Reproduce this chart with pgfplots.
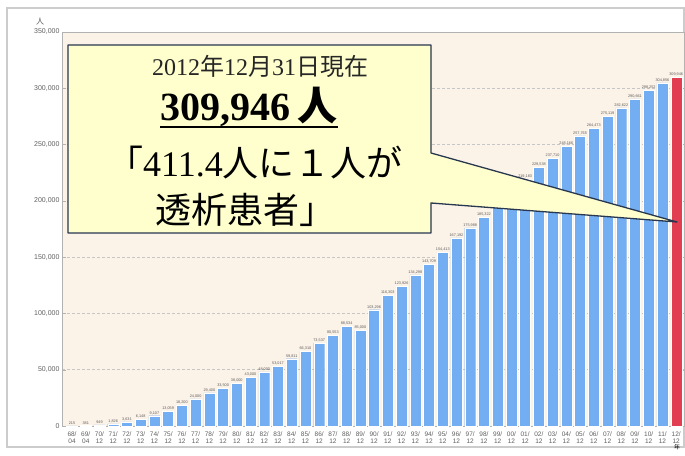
\documentclass[border=0pt]{standalone}
\usepackage{pgfplots}
\pgfplotsset{compat=1.18}
\usepackage{fontspec}
\setmainfont{Liberation Serif}
\newfontfamily\jp{Noto Sans CJK JP}
\newfontfamily\sans{Liberation Sans}
\definecolor{barblue}{RGB}{116,174,242}
\definecolor{barred}{RGB}{226,62,82}
\definecolor{plotbg}{RGB}{252,243,232}
\definecolor{callfill}{RGB}{255,255,206}
\definecolor{calldraw}{RGB}{40,55,80}
\pgfplotstableread{
x y
0 215
1 381
2 949
3 1826
4 3631
5 6148
6 9107
7 13059
8 18200
9 24000
10 29400
11 33500
12 38000
13 43000
14 48000
15 53017
16 59811
17 66310
18 73537
19 80553
20 88534
21 85000
22 103296
23 116303
24 123926
25 134298
26 143709
27 154413
28 167192
29 175988
30 185322
31 197213
32 206134
33 219183
34 229538
35 237710
36 248166
37 257765
38 264473
39 275119
40 282622
41 290661
42 298252
43 304856
}\bluedata
\pgfplotstableread{
x y
44 309946
}\reddata
\begin{document}
\begin{tikzpicture}
\useasboundingbox (0,0) rectangle (685pt,455pt);
\fill[white] (0,0) rectangle (685pt,455pt);
\draw[gray!40, line width=1.6pt] (7pt,8pt) rectangle (684pt,447pt);
\begin{axis}[
  at={(62pt,29pt)}, anchor=south west, scale only axis,
  width=622pt, height=394pt,
  xmin=-0.73, xmax=44.57, ymin=0, ymax=350000,
  ybar, bar width=0.8,
  every axis plot post/.append style={bar shift=0pt},
  axis background/.style={fill=plotbg},
  axis line style={gray!60, line width=0.8pt},
  /pgf/number format/assume math mode=true,
  /pgf/number format/fixed,
  /pgf/number format/precision=0,
  /pgf/number format/1000 sep={,},
  scaled y ticks=false,
  ytick={0,50000,...,350000},
  ymajorgrids, major grid style={gray!45, densely dashed, line width=0.5pt},
  yticklabel style={font=\sans\fontsize{7}{7}\selectfont, text=gray!75!black, xshift=1pt},
  ytick style={gray!60},
  xtick={0,...,44},
  xticklabels={{68/\\04},{69/\\04},{70/\\12},{71/\\12},{72/\\12},{73/\\12},{74/\\12},{75/\\12},{76/\\12},{77/\\12},{78/\\12},{79/\\12},{80/\\12},{81/\\12},{82/\\12},{83/\\12},{84/\\12},{85/\\12},{86/\\12},{87/\\12},{88/\\12},{89/\\12},{90/\\12},{91/\\12},{92/\\12},{93/\\12},{94/\\12},{95/\\12},{96/\\12},{97/\\12},{98/\\12},{99/\\12},{00/\\12},{01/\\12},{02/\\12},{03/\\12},{04/\\12},{05/\\12},{06/\\12},{07/\\12},{08/\\12},{09/\\12},{10/\\12},{11/\\12},{12/\\12}},
  xticklabel style={font=\sans\fontsize{6.5}{7.5}\selectfont, text=gray!75!black, align=center, inner sep=1pt},
  xtick style={draw=none},
  nodes near coords,
  every node near coord/.append style={font=\sans\fontsize{3.8}{4}\selectfont, text=gray!70!black, inner sep=1pt},
  clip=false,
]
\addplot[fill=barblue, draw=white, line width=0.3pt] table[x=x,y=y] {\bluedata};
\addplot[fill=barred, draw=white, line width=0.3pt] table[x=x,y=y] {\reddata};
\end{axis}
\node[font=\jp\fontsize{8}{8}\selectfont, text=gray!75!black] at (40pt,433pt) {人};
\node[font=\jp\fontsize{6}{6}\selectfont, text=black] at (677pt,8pt) {年};
\draw[calldraw, line width=1.3pt, fill=callfill, line join=round]
  (68pt,410pt) -- (431pt,410pt) -- (431pt,302pt) -- (677pt,233pt) -- (431pt,252pt) -- (431pt,222pt) -- (68pt,222pt) -- cycle;
\node[font=\fontsize{24}{24}\selectfont, text=black!85] at (260pt,389pt) {2012{\jp 年}12{\jp 月}31{\jp 日現在}};
\node[font=\fontsize{40}{40}\selectfont\bfseries] at (249pt,348pt) {309,946\,{\jp 人}};
\draw[line width=1.6pt] (160pt,328pt) -- (338pt,328pt);
\node[font=\fontsize{36}{36}\selectfont] at (255pt,292pt) {{\jp 「}411.4{\jp 人に１人が}};
\node[font=\fontsize{36}{36}\selectfont] at (245pt,245pt) {{\jp 透析患者」}};
\end{tikzpicture}
\end{document}
